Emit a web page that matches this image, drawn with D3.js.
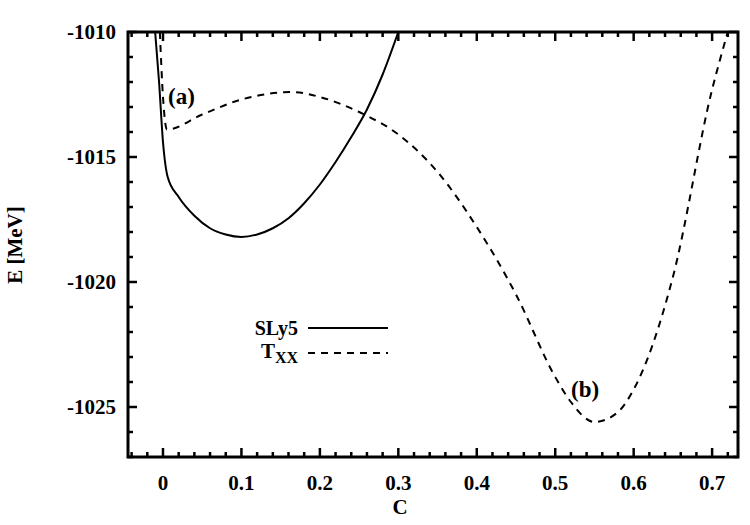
<!DOCTYPE html>
<html><head><meta charset="utf-8">
<script src="https://cdn.jsdelivr.net/npm/d3@7"></script>
<style>body{margin:0;background:#fff}text{font-family:"Liberation Serif",serif;fill:#000;font-weight:bold}</style>
</head><body><svg id="c" width="750" height="525"></svg>
<script>
// SLy5 (solid) and Txx (dashed) energy curves
const sly5C = [-0.01, -0.005, 0, 0.006, 0.02, 0.04, 0.06, 0.08, 0.1, 0.12, 0.14, 0.16, 0.18, 0.2, 0.22, 0.24, 0.26, 0.28, 0.3];
const sly5E = [-1010, -1012, -1014.4, -1015.8, -1016.6, -1017.35, -1017.85, -1018.1, -1018.2, -1018.1, -1017.85, -1017.45, -1016.85, -1016.1, -1015.2, -1014.2, -1013.1, -1011.7, -1010];
const txxC = [-0.004, 0, 0.005, 0.05, 0.1, 0.165, 0.2, 0.25, 0.3, 0.35, 0.4, 0.45, 0.5, 0.52, 0.55, 0.58, 0.6, 0.65, 0.7, 0.72];
const txxE = [-1010, -1012.6, -1013.9, -1013.3, -1012.7, -1012.4, -1012.6, -1013.2, -1014.1, -1015.6, -1017.8, -1020.5, -1023.8, -1024.8, -1025.6, -1025.2, -1024.3, -1019.8, -1012.3, -1010];
const xTicks = [0, 0.1, 0.2, 0.3, 0.4, 0.5, 0.6, 0.7];
const yTicks = [-1010, -1015, -1020, -1025];

const m = {l: 128, r: 738, t: 32, b: 457};
const svg = d3.select("#c");
const x = d3.scaleLinear().domain([-0.0446, 0.733]).range([m.l, m.r]);
const y = d3.scaleLinear().domain([-1027, -1010]).range([m.b, m.t]);

// ticks on all four sides, inward
const minorX = d3.range(-0.04, 0.7301, 0.02);
const minorY = d3.range(-1027, -1009.9, 1);
const tk = svg.append("g").attr("stroke", "#000").attr("stroke-width", 2.5);
minorX.forEach(v => {
  const major = xTicks.some(t => Math.abs(t - v) < 1e-6);
  const len = major ? 9 : 5;
  tk.append("line").attr("x1", x(v)).attr("x2", x(v)).attr("y1", m.b).attr("y2", m.b - len);
  tk.append("line").attr("x1", x(v)).attr("x2", x(v)).attr("y1", m.t).attr("y2", m.t + len);
});
minorY.forEach(v => {
  const major = yTicks.includes(Math.round(v));
  const len = major ? 9 : 5;
  tk.append("line").attr("y1", y(v)).attr("y2", y(v)).attr("x1", m.l).attr("x2", m.l + len);
  tk.append("line").attr("y1", y(v)).attr("y2", y(v)).attr("x1", m.r).attr("x2", m.r - len);
});

svg.selectAll("text.xt").data(xTicks).enter().append("text")
  .attr("x", d => x(d)).attr("y", 490).attr("text-anchor", "middle")
  .attr("font-size", 21).text(d => d);
svg.selectAll("text.yt").data(yTicks).enter().append("text")
  .attr("x", 116).attr("y", d => y(d) + 7).attr("text-anchor", "end")
  .attr("font-size", 21).text(d => d);

svg.append("text").attr("x", 400).attr("y", 514).attr("text-anchor", "middle").attr("font-size", 21).text("C");
svg.append("text").attr("transform", "translate(22,245) rotate(-90)").attr("text-anchor", "middle").attr("font-size", 21).text("E [MeV]");

svg.append("clipPath").attr("id", "pc").append("rect")
  .attr("x", m.l).attr("y", m.t).attr("width", m.r - m.l).attr("height", m.b - m.t);
const line = d3.line().curve(d3.curveMonotoneX);
const g = svg.append("g").attr("clip-path", "url(#pc)").attr("fill", "none").attr("stroke", "#000").attr("stroke-width", 2);
g.append("path").attr("d", line(sly5C.map((c, i) => [x(c), y(sly5E[i])])));
g.append("path").attr("stroke-dasharray", "7,6").attr("d", line(txxC.map((c, i) => [x(c), y(txxE[i])])));

svg.append("rect").attr("x", m.l).attr("y", m.t).attr("width", m.r - m.l).attr("height", m.b - m.t)
  .attr("fill", "none").attr("stroke", "#000").attr("stroke-width", 3);

// legend
svg.append("text").attr("x", 298).attr("y", 335).attr("text-anchor", "end").attr("font-size", 20).attr("font-family", "Liberation Sans, sans-serif").text("SLy5");
svg.append("line").attr("x1", 308).attr("x2", 388).attr("y1", 328).attr("y2", 328).attr("stroke", "#000").attr("stroke-width", 2);
const tl = svg.append("text").attr("x", 298).attr("y", 358).attr("text-anchor", "end").attr("font-size", 21);
tl.append("tspan").text("T");
tl.append("tspan").attr("dy", 5).attr("font-size", 16).text("XX");
svg.append("line").attr("x1", 308).attr("x2", 388).attr("y1", 353).attr("y2", 353).attr("stroke", "#000").attr("stroke-width", 2).attr("stroke-dasharray", "7,6");

svg.append("text").attr("x", 168).attr("y", 104).attr("font-size", 23).text("(a)");
svg.append("text").attr("x", 571).attr("y", 397).attr("font-size", 23).text("(b)");
</script></body></html>
